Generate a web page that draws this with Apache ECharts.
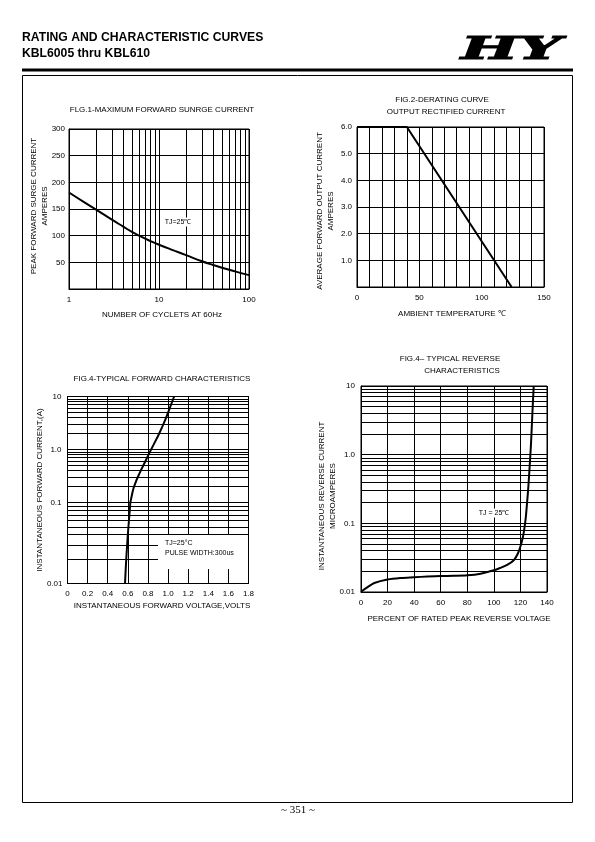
<!DOCTYPE html>
<html><head><meta charset="utf-8">
<script src="https://cdn.jsdelivr.net/npm/echarts@6/dist/echarts.min.js"></script>
<style>html,body{margin:0;padding:0;background:#fff}#c{width:595px;height:842px}</style>
</head><body><div id="c"></div>
<script>
// ---------- DATA ----------
// Fig.1 maximum forward surge current
const fig1Cycles  = [1, 1.5, 2, 3, 4, 5, 6, 8, 10, 15, 20, 30, 40, 50, 70, 100];
const fig1Current = [181, 162, 149, 130, 117, 107, 100, 90, 83, 71.5, 63.5, 52, 45, 40, 33, 26];
const fig1YTicks  = [50, 100, 150, 200, 250, 300];

// Fig.2 derating curve
const fig2Temp    = [0, 40, 124];
const fig2Current = [6.0, 6.0, 0.0];
const fig2XLabels = [0, 50, 100, 150];

// Fig.3 typical forward characteristics
const fig3Volt = [0.572, 0.580, 0.590, 0.600, 0.612, 0.625, 0.640, 0.656, 0.683, 0.716, 0.756, 0.805, 0.855, 0.905, 0.954, 1.004, 1.06];
const fig3Amp  = [0.01, 0.016, 0.026, 0.04, 0.062, 0.1, 0.137, 0.184, 0.255, 0.355, 0.51, 0.79, 1.22, 1.88, 3.0, 5.2, 10];

// Fig.4 typical reverse characteristics
const fig4Pct = [0, 5, 10, 20, 30, 40, 50, 60, 70, 80, 90, 100, 105, 110, 115, 118, 120, 122, 123, 124, 125, 126, 127, 128, 129, 130];
const fig4Amp = [0.0101, 0.0118, 0.0135, 0.0152, 0.016, 0.0164, 0.0168, 0.0171, 0.0172, 0.0175, 0.0185, 0.0207, 0.0225, 0.0248, 0.029, 0.036, 0.046, 0.065, 0.085, 0.12, 0.2, 0.35, 0.7, 1.5, 4.0, 10];

const logTickText = {'0.01': '0.01', '0.1': '0.1', '1': '1.0', '10': '10'};

// ---------- helpers ----------
const BLACK = '#000';
const FONT = '"Liberation Sans", Arial, sans-serif';
function minorLog(lo, hi) { // minor log grid values between decades
  const out = [];
  for (let d = lo; d < hi; d *= 10) for (let k = 2; k <= 9; k++) out.push(+(d * k).toPrecision(3));
  return out;
}
function zip(a, b) { return a.map((v, i) => [v, b[i]]); }
function mlines(vals, dim) {
  return {
    silent: true, symbol: 'none', animation: false,
    label: {show: false},
    lineStyle: {color: BLACK, width: 1, type: 'solid'},
    emphasis: {disabled: true},
    data: vals.map(v => ({[dim]: v}))
  };
}
function logLabel(v) {
  const k = String(+v.toPrecision(3));
  return logTickText[k] !== undefined ? logTickText[k] : '';
}
const axBase = {
  axisLine: {show: true, onZero: false, lineStyle: {color: BLACK, width: 1}},
  axisTick: {show: false},
  splitLine: {show: true, lineStyle: {color: BLACK, width: 1}},
};
function lab(extra) { return Object.assign({color: BLACK, fontSize: 8, fontFamily: FONT}, extra || {}); }
function line(xi, yi, data, smooth, ml) {
  return {type: 'line', xAxisIndex: xi, yAxisIndex: yi, data: data, smooth: smooth,
    showSymbol: false, symbol: 'none', animation: false, silent: true,
    lineStyle: {color: BLACK, width: 2}, markLine: ml};
}
function txt(s, x, y, opt) {
  opt = opt || {};
  return {type: 'text', x: x, y: y, rotation: opt.rot || 0, z: 100,
    scaleX: opt.scaleX || 1, scaleY: opt.scaleY || 1,
    style: {text: s, x: 0, y: 0, fill: BLACK,
      stroke: opt.stroke, lineWidth: opt.stroke ? 1.2 : 0,
      font: opt.font || ('8px ' + FONT),
      align: opt.align || 'center', verticalAlign: 'middle',
      textAlign: opt.align || 'center', textVerticalAlign: 'middle',
      backgroundColor: opt.bg, padding: opt.bg ? [1, 2] : 0}};
}

// fig3 split into two decade bands (the original's lowest decade is drawn taller)
const fig3Top = zip(fig3Volt, fig3Amp).filter(p => p[1] >= 0.1);
const fig3Bot = zip(fig3Volt, fig3Amp).filter(p => p[1] <= 0.1);

const gridBase = {show: true, borderColor: BLACK, borderWidth: 1, containLabel: false, outerBoundsMode: 'none'};

const option = {
  backgroundColor: '#fff',
  animation: false,
  grid: [
    Object.assign({left: 69, top: 129, width: 180, height: 160}, gridBase),
    Object.assign({left: 357, top: 127, width: 187, height: 160}, gridBase),
    Object.assign({left: 67.5, top: 396.5, width: 181, height: 106}, gridBase),
    Object.assign({left: 67.5, top: 502.5, width: 181, height: 81}, gridBase),
    Object.assign({left: 361, top: 386, width: 186, height: 206}, gridBase)
  ],
  xAxis: [
    Object.assign({gridIndex: 0, type: 'log', logBase: 10, min: 1, max: 100,
      axisLabel: lab({margin: 7})}, axBase),
    Object.assign({gridIndex: 1, type: 'value', min: 0, max: 150, interval: 10,
      axisLabel: lab({margin: 7, formatter: v => fig2XLabels.indexOf(v) >= 0 ? String(v) : ''})}, axBase),
    Object.assign({gridIndex: 2, type: 'value', min: 0, max: 1.8, interval: 0.2,
      axisLabel: {show: false}}, axBase),
    Object.assign({gridIndex: 3, type: 'value', min: 0, max: 1.8, interval: 0.2,
      axisLabel: lab({margin: 6, formatter: v => v === 0 ? '0' : v.toFixed(1)})}, axBase),
    Object.assign({gridIndex: 4, type: 'value', min: 0, max: 140, interval: 20,
      axisLabel: lab({margin: 7})}, axBase)
  ],
  yAxis: [
    Object.assign({gridIndex: 0, type: 'value', min: 0, max: 300, interval: 50,
      axisLabel: lab({margin: 4, formatter: v => fig1YTicks.indexOf(v) >= 0 ? String(v) : ''})}, axBase),
    Object.assign({gridIndex: 1, type: 'value', min: 0, max: 6, interval: 1,
      axisLabel: lab({margin: 5, formatter: v => v === 0 ? '' : v.toFixed(1)})}, axBase),
    Object.assign({gridIndex: 2, type: 'log', logBase: 10, min: 0.1, max: 10,
      axisLabel: lab({margin: 6, formatter: logLabel})}, axBase),
    Object.assign({gridIndex: 3, type: 'log', logBase: 10, min: 0.01, max: 0.1,
      axisLabel: lab({margin: 5, formatter: v => Math.abs(v - 0.01) < 1e-9 ? '0.01' : ''})}, axBase),
    Object.assign({gridIndex: 4, type: 'log', logBase: 10, min: 0.01, max: 10,
      axisLabel: lab({margin: 6, formatter: logLabel})}, axBase)
  ],
  series: [
    line(0, 0, zip(fig1Cycles, fig1Current), 0.5, mlines(minorLog(1, 100), 'xAxis')),
    line(1, 1, zip(fig2Temp, fig2Current), false, undefined),
    line(2, 2, fig3Top, 0.4, mlines(minorLog(0.1, 10), 'yAxis')),
    line(3, 3, fig3Bot, 0.4, mlines(minorLog(0.01, 0.1), 'yAxis')),
    line(4, 4, zip(fig4Pct, fig4Amp), 0.3, mlines(minorLog(0.01, 10), 'yAxis'))
  ],
  graphic: {elements: [
    // header
    txt('RATING AND CHARACTERISTIC CURVES', 22, 38, {align: 'left', font: 'bold 12.2px ' + FONT}),
    txt('KBL6005 thru KBL610', 22, 54, {align: 'left', font: 'bold 12.2px ' + FONT}),
    txt('HY', 461, 51, {align: 'left', font: 'italic bold 31px "DejaVu Serif", serif', scaleX: 1.95, stroke: BLACK}),
    {type: 'rect', z: 100, shape: {x: 22, y: 68.5, width: 551, height: 3}, style: {fill: BLACK}},
    {type: 'rect', z: 100, shape: {x: 22.5, y: 75.5, width: 550, height: 727}, style: {fill: 'none', stroke: BLACK, lineWidth: 1}},
    txt('~ 351 ~', 298, 810, {font: '11px "Liberation Serif", serif'}),
    // fig 1
    txt('FLG.1-MAXIMUM FORWARD SUNRGE CURRENT', 162, 110),
    txt('NUMBER OF CYCLETS AT 60Hz', 162, 315),
    txt('PEAK FORWARD SURGE CURRENT', 34, 206, {rot: Math.PI / 2}),
    txt('AMPERES', 45, 206, {rot: Math.PI / 2}),
    txt('TJ=25℃', 178, 222, {font: '7px ' + FONT, bg: '#fff'}),
    // fig 2
    txt('FIG.2-DERATING CURVE', 442, 100),
    txt('OUTPUT RECTIFIED CURRENT', 446, 112),
    txt('AMBIENT TEMPERATURE ℃', 452, 314),
    txt('AVERAGE FORWARD OUTPUT CURRENT', 320, 211, {rot: Math.PI / 2}),
    txt('AMPERES', 331, 211, {rot: Math.PI / 2}),
    // fig 3
    txt('FIG.4-TYPICAL FORWARD CHARACTERISTICS', 162, 379),
    txt('INSTANTANEOUS FORWARD VOLTAGE,VOLTS', 162, 606),
    txt('INSTANTANEOUS FORWARD CURRENT,(A)', 40, 490, {rot: Math.PI / 2}),
    {type: 'rect', z: 99, shape: {x: 158, y: 535, width: 90, height: 34}, style: {fill: '#fff'}},
    txt('TJ=25°C', 165, 543, {align: 'left', font: '7px ' + FONT}),
    txt('PULSE WIDTH:300us', 165, 553, {align: 'left', font: '7px ' + FONT}),
    // fig 4
    txt('FIG.4– TYPICAL REVERSE', 450, 359),
    txt('CHARACTERISTICS', 462, 371),
    txt('PERCENT OF RATED PEAK REVERSE VOLTAGE', 459, 619),
    txt('INSTANTANEOUS REVERSE CURRENT', 322, 496, {rot: Math.PI / 2}),
    txt('MICROAMPERES', 333, 496, {rot: Math.PI / 2}),
    txt('TJ = 25℃', 494, 513, {font: '7px ' + FONT, bg: '#fff'})
  ]}
};
const chart = echarts.init(document.getElementById('c'), null, {renderer: 'canvas'});
chart.setOption(option);
</script>
</body></html>
